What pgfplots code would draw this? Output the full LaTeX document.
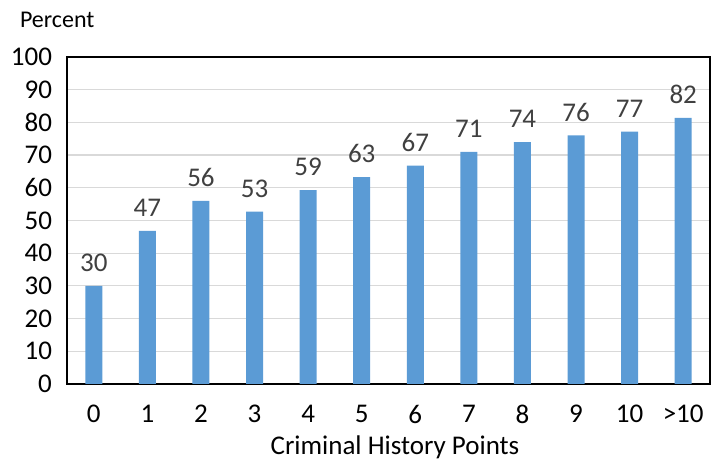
\documentclass[border=0pt]{standalone}
\usepackage{fontspec}
\setmainfont{Carlito}
\usepackage{pgfplots}
\usepackage{pgfplotstable}
\pgfplotsset{compat=1.18}

\definecolor{barblue}{HTML}{5B9BD5}
\definecolor{gridgray}{HTML}{D9D9D9}
\definecolor{labelgray}{HTML}{404040}

\pgfplotstableread{
x  val   lab
0  30.0  30
1  46.8  47
2  56.0  56
3  52.7  53
4  59.3  59
5  63.3  63
6  66.8  67
7  71.0  71
8  74.0  74
9  76.0  76
10 77.2  77
11 81.4  82
}\pointsdata

\begin{document}
\begin{tikzpicture}
\useasboundingbox (-33.5pt,-41pt) rectangle (323.5pt,192pt);
\begin{axis}[
    at={(0pt,0pt)}, anchor=south west,
    scale only axis,
    width=321.5pt, height=163.5pt,
    xmin=-0.5, xmax=11.5,
    ymin=0, ymax=100,
    ytick={0,10,...,100},
    xtick={0,...,11},
    xticklabels={0,1,2,3,4,5,6,7,8,9,10,>10},
    major tick length=0pt,
    ymajorgrids,
    grid style={gridgray, line width=0.6pt},
    axis line style={black, line width=0.8pt},
    tick label style={font=\fontsize{13.5}{15}\selectfont, black},
    /pgf/number format/assume math mode=true,
    yticklabel style={xshift=-4pt},
    xticklabel style={yshift=-7pt},
    clip=false,
]
\addplot[ybar, bar width=8.5pt, fill=barblue, draw=none,
    nodes near coords,
    point meta=explicit symbolic,
    every node near coord/.style={font=\fontsize{13.5}{15}\selectfont, text=labelgray, yshift=3.5pt}]
    table[x=x, y=val, meta=lab] {\pointsdata};
\end{axis}
\node[anchor=west, font=\fontsize{12}{14}\selectfont] at (-27pt,182pt) {Percent};
\node[font=\fontsize{13.5}{15}\selectfont] at (164pt,-31.5pt) {Criminal History Points};
\end{tikzpicture}
\end{document}
